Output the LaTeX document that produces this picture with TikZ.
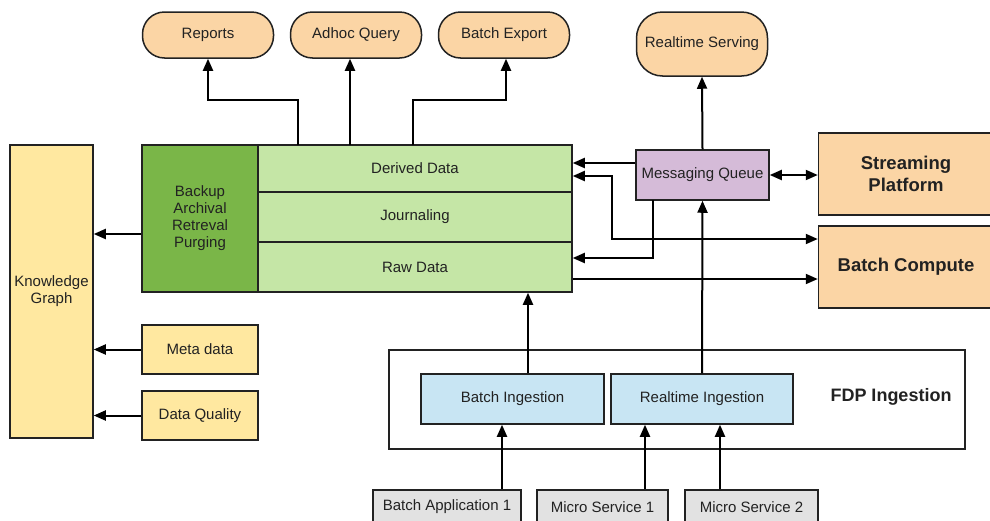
\documentclass[tikz,border=0pt]{standalone}
\usepackage{fontspec}
\setmainfont{Liberation Sans}
\usetikzlibrary{arrows.meta}
\definecolor{peach}{HTML}{FBD5A5}
\definecolor{darkgreen}{HTML}{7AB648}
\definecolor{lightgreen}{HTML}{C5E6A6}
\definecolor{paleyellow}{HTML}{FFE8A0}
\definecolor{lilac}{HTML}{D5BBD8}
\definecolor{paleblue}{HTML}{C8E5F3}
\definecolor{palegray}{HTML}{E2E2E2}
\definecolor{ink}{HTML}{222222}
\tikzset{
  base/.style={draw=ink, line width=1.5pt, inner sep=2pt, align=center, text=ink, font=\fontsize{15}{17}\selectfont},
  pill/.style={base, fill=peach, rounded corners=22pt},
  peachbox/.style={base, fill=peach, font=\bfseries\fontsize{18.5}{22}\selectfont},
  dgbox/.style={base, fill=darkgreen},
  lgbox/.style={base, fill=lightgreen},
  ybox/.style={base, fill=paleyellow},
  qbox/.style={base, fill=lilac},
  ingbox/.style={base, fill=paleblue},
  srcbox/.style={base, fill=palegray},
  conn/.style={draw=black, line width=2pt, -{Triangle[length=12pt,width=10pt]}},
  biconn/.style={draw=black, line width=2pt, {Triangle[length=12pt,width=10pt]}-{Triangle[length=12pt,width=10pt]}},
}
\begin{document}
\begin{tikzpicture}[x=1pt,y=-1pt]
\useasboundingbox[fill=white] (0,0) rectangle (990,520);

% consumers
\node[pill, minimum width=131, minimum height=46] (reports) at (208,35) {Reports};
\node[pill, minimum width=131, minimum height=46] (adhoc) at (356,35) {Adhoc Query};
\node[pill, minimum width=131, minimum height=46] (export) at (504,35) {Batch Export};
\node[pill, minimum width=131, minimum height=64, rounded corners=26pt] (serving) at (702,44) {Realtime Serving};

% storage block
\node[dgbox, minimum width=116, minimum height=147] (backup) at (200,218.5) {Backup\\Archival\\Retreval\\Purging};
\node[lgbox, minimum width=314, minimum height=47] (derived) at (415,168.5) {Derived Data};
\node[lgbox, minimum width=314, minimum height=50] (journal) at (415,217) {Journaling};
\node[lgbox, minimum width=314, minimum height=50] (raw) at (415,267) {Raw Data};
\draw[ink, line width=1.8pt] (142,145) rectangle (572,292);

% metadata side
\node[ybox, minimum width=83, minimum height=293] (kg) at (51.5,291.5) {Knowledge\\Graph};
\node[ybox, minimum width=116, minimum height=49] (meta) at (200,349.5) {Meta data};
\node[ybox, minimum width=116, minimum height=49] (dq) at (200,415.5) {Data Quality};

% streaming side
\node[qbox, minimum width=133, minimum height=50] (mq) at (702.5,175) {Messaging Queue};
\node[peachbox, minimum width=175, minimum height=82] (stream) at (906,174) {Streaming\\Platform};
\node[peachbox, minimum width=175, minimum height=82] (compute) at (906,267) {Batch Compute};

% ingestion
\node[base, minimum width=576, minimum height=99] (fdp) at (677,399.5) {};
\node[font=\bfseries\fontsize{18}{21}\selectfont, text=ink] (fdplabel) at (891,397) {FDP Ingestion};
\node[ingbox, minimum width=183, minimum height=50] (bing) at (512.5,399) {Batch Ingestion};
\node[ingbox, minimum width=182, minimum height=50] (ring) at (702,399) {Realtime Ingestion};

% sources
\node[srcbox, minimum width=148, minimum height=34] (app1) at (447,507) {Batch Application 1};
\node[srcbox, minimum width=131, minimum height=34] (ms1) at (602.5,507) {Micro Service 1};
\node[srcbox, minimum width=133, minimum height=34] (ms2) at (751.5,507) {Micro Service 2};

% outputs of derived data
\draw[conn] (298,145) |- (208,100) -- (reports.south -| 208,0);
\draw[conn] (350,145) -- (adhoc.south -| 350,0);
\draw[conn] (413,145) |- (506,100) -- (export.south -| 506,0);

% backup and metadata to knowledge graph
\draw[conn] (backup.west |- 0,234) -- (kg.east |- 0,234);
\draw[conn] (meta) -- (kg.east |- meta);
\draw[conn] (dq) -- (kg.east |- dq);

% messaging queue links
\draw[conn] (mq.north) -- (serving.south);
\draw[conn] (mq.west |- 0,163) -- (derived.east |- 0,163);
\draw[biconn] (derived.east |- 0,176) -| (612,239) -- (compute.west |- 0,239);
\draw[conn] (653,200) |- (raw.east |- 0,258);
\draw[conn] (raw.east |- 0,279) -- (compute.west |- 0,279);
\draw[biconn] (mq.east) -- (stream.west |- mq.east);

% ingestion paths
\draw[conn] (bing.north -| 528,0) -- (raw.south -| 528,0);
\draw[conn] (ring.north) -- (mq.south);
\draw[conn] (app1.north -| 502,0) -- (bing.south -| 502,0);
\draw[conn] (ms1.north -| 645,0) -- (ring.south -| 645,0);
\draw[conn] (ms2.north -| 720,0) -- (ring.south -| 720,0);
\end{tikzpicture}
\end{document}
